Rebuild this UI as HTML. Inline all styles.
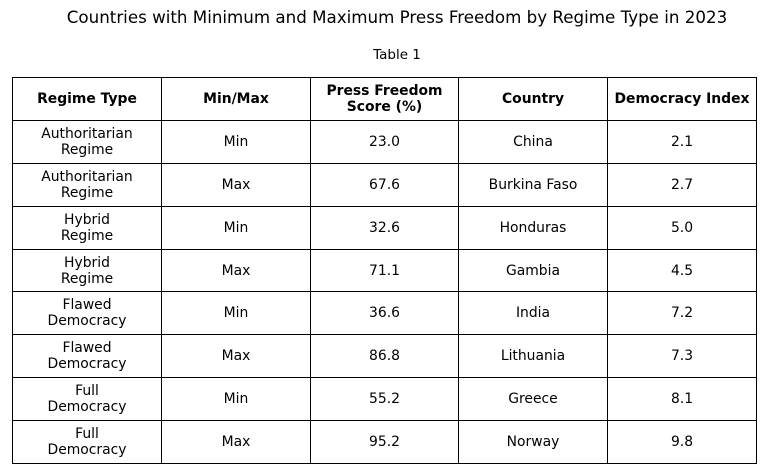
<!DOCTYPE html>
<html><head><meta charset="utf-8"><style>
body{margin:0;width:766px;height:474px;background:#fff;font-family:"DejaVu Sans","Liberation Sans",sans-serif;position:relative;overflow:hidden}
#title{position:absolute;left:0;width:794px;top:7px;text-align:center;font-size:16.7px;color:#000;white-space:nowrap}
#sub{position:absolute;left:0;width:794px;top:47px;text-align:center;font-size:13.5px}
.c{position:absolute;box-sizing:border-box;border:1px solid #000;display:flex;align-items:center;justify-content:center;text-align:center;font-size:13.9px;line-height:16px;color:#000}
.h{font-weight:bold}
</style></head><body>
<div id="title">Countries with Minimum and Maximum Press Freedom by Regime Type in 2023</div>
<div id="sub">Table 1</div>
<div id="tbl"></div>
<script>
const headers=["Regime Type","Min/Max","Press Freedom<br>Score (%)","Country","Democracy Index"];
const regimes=["Authoritarian<br>Regime","Authoritarian<br>Regime","Hybrid<br>Regime","Hybrid<br>Regime","Flawed<br>Democracy","Flawed<br>Democracy","Full<br>Democracy","Full<br>Democracy"];
const minmax=["Min","Max","Min","Max","Min","Max","Min","Max"];
const scores=["23.0","67.6","32.6","71.1","36.6","86.8","55.2","95.2"];
const countries=["China","Burkina Faso","Honduras","Gambia","India","Lithuania","Greece","Norway"];
const demIndex=["2.1","2.7","5.0","4.5","7.2","7.3","8.1","9.8"];
const colX=[12,161,310,458,607,756];
const rowY=[77,120,163,206,249,291,334,377,420,463];
const tbl=document.getElementById('tbl');
function cell(r,c,html,hdr){
  const d=document.createElement('div');
  d.className='c'+(hdr?' h':'');
  d.style.left=colX[c]+'px';d.style.top=rowY[r]+'px';
  d.style.width=(colX[c+1]-colX[c]+1)+'px';d.style.height=(rowY[r+1]-rowY[r]+1)+'px';
  d.innerHTML=html;
  
  
  tbl.appendChild(d);
}
headers.forEach((h,i)=>cell(0,i,h,true));
for(let i=0;i<regimes.length;i++){
  [regimes[i],minmax[i],scores[i],countries[i],demIndex[i]].forEach((v,c)=>cell(i+1,c,v,false));
}
</script>
</body></html>
